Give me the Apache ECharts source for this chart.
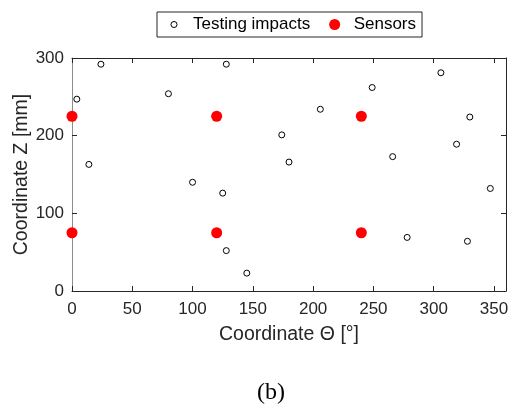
<!DOCTYPE html>
<html>
<head>
<meta charset="utf-8">
<script src="https://cdn.jsdelivr.net/npm/echarts@6/dist/echarts.min.js"></script>
<style>
  html, body { margin: 0; padding: 0; background: #fff; }
  #chart { width: 515px; height: 405px; }
</style>
</head>
<body>
<div id="chart"></div>
<script>
// Impact test locations on the cylinder surface (theta in degrees, Z in mm)
const impactTheta = [4, 24, 80, 128, 249, 306, 206, 330, 174, 14, 100, 125, 180, 266, 319, 347, 128, 278, 328, 145];
const impactZ     = [247, 292, 254, 292, 262, 281, 234, 224, 201, 163, 140, 126, 166, 173, 189, 132, 52, 69, 64, 23];

// Sensor positions
const sensorTheta = [0, 120, 240, 0, 120, 240];
const sensorZ     = [225, 225, 225, 75, 75, 75];

const xTicks = [0, 50, 100, 150, 200, 250, 300, 350];
const yTicks = [0, 100, 200, 300];

const zip = (a, b) => a.map((v, i) => [v, b[i]]);

const axisColor = '#262626';
const font = 'Liberation Sans, Arial, sans-serif';

const tickStyle = { show: true, inside: true, length: 5, lineStyle: { color: axisColor, width: 1 } };

const chart = echarts.init(document.getElementById('chart'), null, { renderer: 'canvas' });

chart.setOption({
  backgroundColor: '#fff',
  animation: false,
  grid: { left: 72, right: 9, top: 58, bottom: 114, containLabel: false, outerBoundsMode: 'none' },
  legend: {
    left: 157,
    top: 12,
    orient: 'horizontal',
    itemWidth: 28,
    itemHeight: 11,
    itemGap: 19,
    padding: [4, 6, 4, 11],
    borderColor: axisColor,
    borderWidth: 1,
    backgroundColor: '#fff',
    textStyle: { fontFamily: font, fontSize: 17, color: '#000' },
    data: [
      {
        name: 'Testing impacts',
        icon: 'path://M0,0M20,20M10,4.5A5.5,5.5,0,1,1,10,15.5A5.5,5.5,0,1,1,10,4.5Z',
        itemStyle: { color: 'rgba(255,255,255,0)', borderColor: '#000', borderWidth: 1 }
      },
      { name: 'Sensors', icon: 'circle' }
    ]
  },
  xAxis: [
    {
      type: 'value', min: 0, max: 360, interval: 50, position: 'bottom',
      name: 'Coordinate \u0398 [\u00b0]', nameLocation: 'middle', nameGap: 34,
      nameTextStyle: { fontFamily: font, fontSize: 19.5, color: axisColor },
      axisLine: { show: true, onZero: false, lineStyle: { color: axisColor, width: 1 } },
      axisTick: tickStyle,
      axisLabel: {
        show: true, margin: 10, fontFamily: font, fontSize: 17, color: axisColor,
        showMaxLabel: false,
        formatter: v => (xTicks.includes(v) ? String(v) : '')
      },
      splitLine: { show: false }
    },
    {
      type: 'value', min: 0, max: 360, interval: 50, position: 'top',
      axisLine: { show: true, onZero: false, lineStyle: { color: axisColor, width: 1 } },
      axisTick: tickStyle,
      axisLabel: { show: false },
      splitLine: { show: false }
    }
  ],
  yAxis: [
    {
      type: 'value', min: 0, max: 300, interval: 100, position: 'left',
      name: 'Coordinate Z [mm]', nameLocation: 'middle', nameGap: 40, nameRotate: 90,
      nameMoveOverlap: false,
      nameTextStyle: { fontFamily: font, fontSize: 19.5, color: axisColor },
      axisLine: { show: true, onZero: false, lineStyle: { color: '#8c8c8c', width: 1 } },
      axisTick: tickStyle,
      axisLabel: {
        show: true, margin: 8, fontFamily: font, fontSize: 17, color: axisColor,
        formatter: v => (yTicks.includes(v) ? String(v) : '')
      },
      splitLine: { show: false }
    },
    {
      type: 'value', min: 0, max: 300, interval: 100, position: 'right',
      axisLine: { show: true, onZero: false, lineStyle: { color: axisColor, width: 1 } },
      axisTick: tickStyle,
      axisLabel: { show: false },
      splitLine: { show: false }
    }
  ],
  series: [
    {
      name: 'Testing impacts',
      type: 'scatter',
      xAxisIndex: 0, yAxisIndex: 0,
      symbol: 'circle',
      symbolSize: 6,
      itemStyle: { color: 'rgba(255,255,255,0)', borderColor: '#000', borderWidth: 1, opacity: 1 },
      data: zip(impactTheta, impactZ),
      z: 3
    },
    {
      name: 'Sensors',
      type: 'scatter',
      xAxisIndex: 0, yAxisIndex: 0,
      symbol: 'circle',
      symbolSize: 11,
      itemStyle: { color: '#ff0000', opacity: 1 },
      data: zip(sensorTheta, sensorZ),
      clip: false,
      z: 4
    }
  ],
  graphic: [
    {
      type: 'text',
      left: 257, top: 381,
      style: {
        text: '(b)',
        font: '24px "Liberation Serif", "Times New Roman", serif',
        fill: '#000'
      }
    }
  ]
});
</script>
</body>
</html>
